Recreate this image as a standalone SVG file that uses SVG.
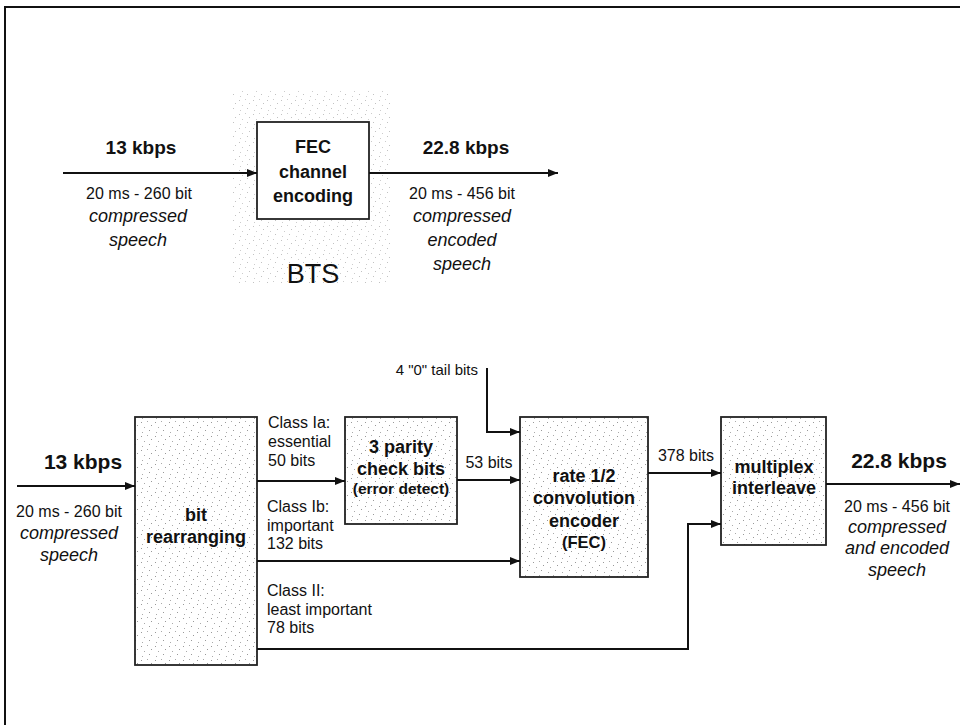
<svg xmlns="http://www.w3.org/2000/svg" width="960" height="725" viewBox="0 0 960 725">
<defs>
<style>
text{font-family:"Liberation Sans",Arial,sans-serif;fill:#111}
.b{font-weight:bold}
.big{font-size:19px;font-weight:bold}
.big2{font-size:21px;font-weight:bold}
.nb{font-size:18px;font-weight:bold}
.sm{font-size:16px}
.lb{font-size:16px}
.it{font-style:italic;font-size:18px}
.m{text-anchor:middle}
.box{stroke:#222;stroke-width:1.8;fill:url(#dots)}
.ln{stroke:#111;stroke-width:2;fill:none}
</style>
<pattern id="dots" width="14" height="14" patternUnits="userSpaceOnUse">
<rect width="14" height="14" fill="#fff"/>
<rect x="1" y="2" width="1" height="1" fill="#999"/>
<rect x="7" y="1" width="1" height="1" fill="#aaa"/>
<rect x="11" y="5" width="1" height="1" fill="#999"/>
<rect x="4" y="7" width="1" height="1" fill="#aaa"/>
<rect x="9" y="10" width="1" height="1" fill="#999"/>
<rect x="2" y="12" width="1" height="1" fill="#aaa"/>
</pattern>
<marker id="ar" viewBox="0 0 10 8" refX="10" refY="4" markerWidth="10" markerHeight="8" markerUnits="userSpaceOnUse" orient="auto">
<path d="M0,0 L10,4 L0,8 z" fill="#111"/>
</marker>
</defs>
<rect width="960" height="725" fill="#fff"/>
<path d="M5,725 V7 H960" stroke="#111" stroke-width="2" fill="none"/>

<g id="bts">
<rect x="232" y="90" width="160" height="193" fill="url(#dots)" opacity="0.6"/>
<text x="313" y="283" class="m" style="font-size:27px">BTS</text>
</g>
<g id="fec">
<rect x="257" y="122" width="112" height="97" fill="#fff" stroke="#222" stroke-width="1.8"/>
<text x="313" y="153" class="nb m">FEC</text>
<text x="313" y="178" class="nb m">channel</text>
<text x="313" y="202" class="nb m">encoding</text>
</g>
<g id="top-labels">
<text x="141" y="154" class="big m">13 kbps</text>
<text x="139" y="199" class="sm m">20 ms - 260 bit</text>
<text x="138" y="222" class="m it">compressed</text>
<text x="138" y="246" class="m it">speech</text>
<text x="466" y="154" class="big m">22.8 kbps</text>
<text x="462" y="199" class="sm m">20 ms - 456 bit</text>
<text x="462" y="222" class="m it">compressed</text>
<text x="462" y="246" class="m it">encoded</text>
<text x="462" y="270" class="m it">speech</text>
</g>

<g id="bitrearr">
<rect x="135" y="417" width="122" height="248" class="box"/>
<text x="196" y="521" class="nb m">bit</text>
<text x="196" y="543" class="nb m">rearranging</text>
</g>
<g id="parity">
<rect x="345" y="417" width="112" height="107" class="box"/>
<text x="401" y="453" class="nb m">3 parity</text>
<text x="401" y="475" class="nb m">check bits</text>
<text x="401" y="494" class="b m" style="font-size:15.5px">(error detect)</text>
</g>
<g id="conv">
<rect x="520" y="417" width="128" height="160" class="box"/>
<text x="584" y="482" class="nb m">rate 1/2</text>
<text x="584" y="504" class="nb m">convolution</text>
<text x="584" y="527" class="nb m">encoder</text>
<text x="584" y="548" class="b m" style="font-size:16.5px">(FEC)</text>
</g>
<g id="mux">
<rect x="721" y="417" width="105" height="128" class="box"/>
<text x="774" y="473" class="nb m">multiplex</text>
<text x="774" y="494" class="nb m">interleave</text>
</g>

<g id="bottom-labels">
<text x="83" y="469" class="big2 m">13 kbps</text>
<text x="69" y="517" class="sm m">20 ms - 260 bit</text>
<text x="69" y="539" class="m it">compressed</text>
<text x="69" y="561" class="m it">speech</text>
<text x="268" y="428" class="lb">Class Ia:</text>
<text x="268" y="447" class="lb">essential</text>
<text x="268" y="466" class="lb">50 bits</text>
<text x="267" y="512" class="lb">Class Ib:</text>
<text x="267" y="531" class="lb">important</text>
<text x="267" y="549" class="lb">132 bits</text>
<text x="267" y="596" class="lb">Class II:</text>
<text x="267" y="615" class="lb">least important</text>
<text x="267" y="633" class="lb">78 bits</text>
<text x="478" y="375" style="text-anchor:end;font-size:15px">4 "0" tail bits</text>
<text x="489" y="468" class="lb m">53 bits</text>
<text x="686" y="461" class="lb m">378 bits</text>
<text x="899" y="468" class="big2 m">22.8 kbps</text>
<text x="897" y="512" class="sm m">20 ms - 456 bit</text>
<text x="897" y="533" class="m it">compressed</text>
<text x="897" y="554" class="m it">and encoded</text>
<text x="897" y="576" class="m it">speech</text>
</g>

<g id="connectors">
<line x1="63" y1="173" x2="257" y2="173" class="ln" marker-end="url(#ar)"/>
<line x1="369" y1="173" x2="558" y2="173" class="ln" marker-end="url(#ar)"/>
<line x1="17" y1="486" x2="135" y2="486" class="ln" marker-end="url(#ar)"/>
<line x1="257" y1="481" x2="345" y2="481" class="ln" marker-end="url(#ar)"/>
<line x1="257" y1="561" x2="520" y2="561" class="ln" marker-end="url(#ar)"/>
<polyline points="257,649 688,649 688,524 721,524" class="ln" marker-end="url(#ar)"/>
<polyline points="487,368 487,432 520,432" class="ln" stroke-width="1.6" marker-end="url(#ar)"/>
<line x1="457" y1="480" x2="520" y2="480" class="ln" marker-end="url(#ar)"/>
<line x1="648" y1="473" x2="721" y2="473" class="ln" marker-end="url(#ar)"/>
<line x1="826" y1="484" x2="960" y2="484" class="ln" marker-end="url(#ar)"/>
</g>
</svg>
